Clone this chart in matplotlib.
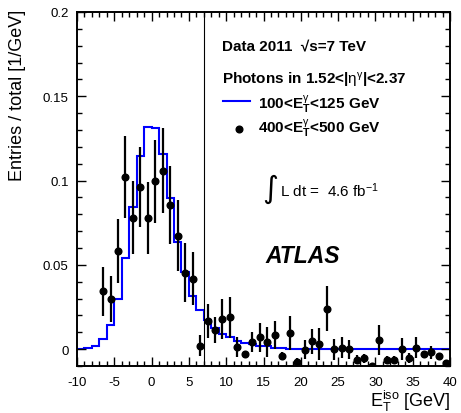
import numpy as np
import matplotlib.pyplot as plt
import matplotlib as mpl
from matplotlib.ticker import MultipleLocator, FixedLocator, FixedFormatter

mpl.rcParams['font.family'] = ['Liberation Sans', 'DejaVu Sans']
mpl.rcParams['axes.unicode_minus'] = False
mpl.rcParams['mathtext.fontset'] = 'custom'
mpl.rcParams['mathtext.rm'] = 'Liberation Sans'
mpl.rcParams['mathtext.it'] = 'Liberation Sans:italic'
mpl.rcParams['mathtext.bf'] = 'Liberation Sans:bold'

# MC histogram, 1 GeV bins from -10 to 40 (100 < ET < 125 GeV)
bin_lo = -10
bin_hi = 40
mc_vals = [0.0000, 0.0006, 0.0021, 0.0063, 0.0144, 0.0298, 0.0543, 0.0846, 0.1148, 0.1320,
           0.1314, 0.1158, 0.0895, 0.0638, 0.0460, 0.0318, 0.0231, 0.0171, 0.0127, 0.0091,
           0.0073, 0.0051, 0.0039, 0.0031, 0.0021, 0.0016, 0.0008, 0.0004, 0.0003, 0.0003,
           0.0002, 0.0002, 0.0002, 0.0002, 0.0002, 0.0002, 0.0002, 0.0002, 0.0002, 0.0002,
           0.0002, 0.0002, 0.0002, 0.0002, 0.0002, 0.0002, 0.0002, 0.0002, 0.0002, 0.0002]

# data points (400 < ET < 500 GeV)
data_x = [-6.5, -5.5, -4.5, -3.5, -2.5, -1.5, -0.5, 0.5, 1.5, 2.5, 3.5, 4.5, 5.5, 6.5,
          7.5, 8.5, 9.5, 10.5, 11.5, 12.5, 13.5, 14.5, 15.5, 16.5, 17.5, 18.5, 19.5,
          20.5, 21.5, 22.5, 23.5, 24.5, 25.5, 26.5, 27.5, 28.5, 29.5, 30.5, 31.5, 32.5,
          33.5, 34.5, 35.5, 36.5, 37.5, 38.5, 39.5]
data_y = [0.0344, 0.0297, 0.0585, 0.1022, 0.0780, 0.0960, 0.0779, 0.0996, 0.1059, 0.0854,
          0.0672, 0.0454, 0.0417, 0.0021, 0.0168, 0.0115, 0.0180, 0.0190, 0.0011, -0.0030,
          0.0043, 0.0070, 0.0043, 0.0085, -0.0038, 0.0096, -0.0077, -0.0004, 0.0047, 0.0031,
          0.0239, -0.0001, 0.0009, -0.0002, -0.0062, -0.0054, -0.0101, 0.0057, -0.0062,
          -0.0062, 0.0000, -0.0052, 0.0009, -0.0030, -0.0019, -0.0042, -0.0085]
data_err = [0.0146, 0.0134, 0.0190, 0.0245, 0.0217, 0.0237, 0.0214, 0.0247, 0.0254, 0.0233,
            0.0210, 0.0176, 0.0158, 0.0060, 0.0102, 0.0078, 0.0120, 0.0122, 0.0059, 0.0020,
            0.0060, 0.0087, 0.0087, 0.0084, 0.0020, 0.0101, 0.0024, 0.0057, 0.0073, 0.0093,
            0.0133, 0.0064, 0.0062, 0.0057, 0.0025, 0.0027, 0.0020, 0.0089, 0.0020, 0.0020,
            0.0066, 0.0028, 0.0064, 0.0020, 0.0037, 0.0020, 0.0020]

iso_cut = 7

fig = plt.figure(figsize=(4.61, 4.14), dpi=100)
ax = fig.add_axes([77/461, 1-367/414, 373/461, 354/414])

edges = np.arange(bin_lo, bin_hi + 1, 1)
ax.stairs(mc_vals, edges, baseline=None, color='#0000ff', lw=1.5)
ax.errorbar(data_x, data_y, yerr=data_err, fmt='o', color='black', ms=4.8,
            elinewidth=1.6, capsize=0)
ax.axvline(iso_cut, color='black', lw=0.8)

ax.set_xlim(-10, 40)
ax.set_ylim(-0.01, 0.2)
ax.xaxis.set_major_locator(MultipleLocator(5))
ax.xaxis.set_minor_locator(MultipleLocator(1))
ax.yaxis.set_major_locator(FixedLocator([0, 0.05, 0.1, 0.15, 0.2]))
ax.yaxis.set_major_formatter(FixedFormatter(['0', '0.05', '0.1', '0.15', '0.2']))
ax.yaxis.set_minor_locator(MultipleLocator(0.01))
ax.tick_params(which='both', direction='in', top=True, right=True, width=1.0,
               labelsize=9.5)
ax.tick_params(which='major', length=6.5)
ax.tick_params(which='minor', length=3.5)
ax.tick_params(axis='y', pad=6)
ax.tick_params(axis='x', pad=7)
for s in ax.spines.values():
    s.set_linewidth(1.4)

fig.text(18/461, 1-10/414, 'Entries / total [1/GeV]', rotation=90,
         ha='center', va='top', fontsize=13)
fig.text(451/461, 1-401/414, r'E$_{\mathrm{T}}^{\mathrm{iso}}$ [GeV]',
         ha='right', va='center', fontsize=13)

# legend / labels
fig.text(222/461, 1-46.5/414, 'Data 2011  \u221as=7 TeV',
         fontweight='bold', fontsize=11, ha='left', va='center')
fig.text(222/461, 1-80.5/414, r'Photons in 1.52<|$\mathrm{\eta}^{\mathrm{\gamma}}$|<2.37',
         fontweight='bold', fontsize=11, ha='left', va='center')
fig.add_artist(mpl.lines.Line2D([223/461, 250/461], [1-102/414, 1-102/414],
                                color='#0000ff', lw=1.5))
fig.add_artist(mpl.lines.Line2D([239/461], [1-130/414], marker='o', color='black', ms=4.8))
fig.text(258/461, 1-104/414, r'100<$\mathbf{E}_{\mathbf{T}}^{\mathrm{\gamma}}$<125 GeV',
         fontweight='bold', fontsize=11, ha='left', va='center')
fig.text(258/461, 1-128/414, r'400<$\mathbf{E}_{\mathbf{T}}^{\mathrm{\gamma}}$<500 GeV',
         fontweight='bold', fontsize=11, ha='left', va='center')

fig.text(262/461, 1-189/414, '\u222b', fontsize=22, family='DejaVu Sans',
         ha='left', va='center')
fig.text(280/461, 1-191/414, r'L dt =  4.6 fb$^{-1}$', fontsize=11,
         ha='left', va='center')
fig.text(265/461, 1-257/414, 'ATLAS', fontsize=16.5, fontweight='bold',
         fontstyle='italic', ha='left', va='center')

fig.savefig('out.png', dpi=100)
